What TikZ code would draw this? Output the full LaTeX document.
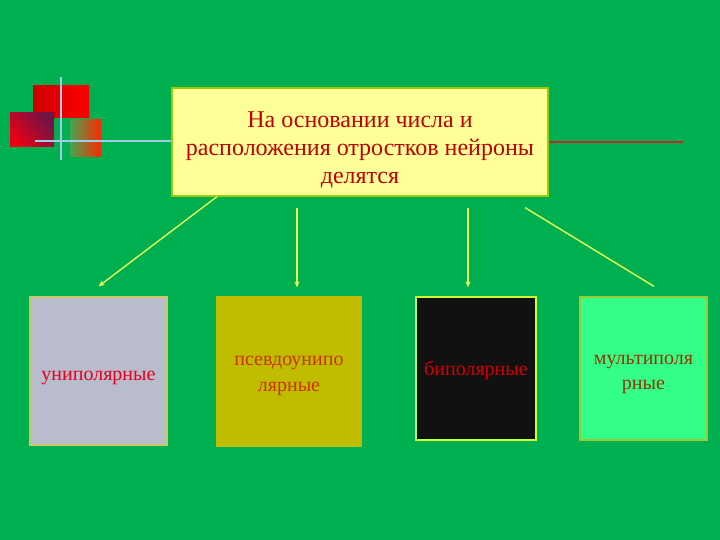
\documentclass[tikz,border=0pt]{standalone}
\usepackage{fontspec}
\setmainfont{Liberation Serif}
\usetikzlibrary{arrows.meta}
\definecolor{bg}{RGB}{0,176,80}
\definecolor{topfill}{RGB}{255,255,153}
\definecolor{topdraw}{RGB}{153,204,0}
\definecolor{darkred}{RGB}{192,0,0}
\definecolor{arrcol}{RGB}{230,255,80}
\definecolor{lblue}{RGB}{160,205,235}
\definecolor{redline}{RGB}{190,40,40}
\definecolor{fillA}{RGB}{184,188,204}
\definecolor{fillB}{RGB}{192,188,0}
\definecolor{fillC}{RGB}{17,17,17}
\definecolor{fillD}{RGB}{51,255,136}
\definecolor{textB}{RGB}{204,51,0}
\definecolor{textD}{RGB}{153,51,0}
\tikzset{
  topbox/.style={draw=topdraw, line width=1.2pt, fill=topfill, minimum width=376pt, minimum height=108pt, inner sep=0pt, align=center, font=\fontsize{24}{28}\selectfont, text=darkred},
  catbox/.style={line width=1.2pt, inner sep=0pt, align=center, font=\fontsize{20}{26}\selectfont},
  arr/.style={draw=arrcol, line width=1.4pt, -{Stealth[length=6pt,width=5pt]}},
  plainarr/.style={draw=arrcol, line width=1.4pt},
}
\begin{document}
\begin{tikzpicture}[x=1pt,y=-1pt]
\fill[bg] (0,0) rectangle (720,540);
\useasboundingbox (0,0) rectangle (720,540);
% decoration
\shade[left color=red!80!black, right color=red] (33,86) rectangle (89,118);
\shade[left color={rgb,255:red,70;green,165;blue,80}, right color={rgb,255:red,255;green,40;blue,0}] (70,120) rectangle (101,157);
\shade[shading=axis, top color={rgb,255:red,110;green,20;blue,70}, bottom color={rgb,255:red,235;green,0;blue,20}, shading angle=-50] (10,113) rectangle (54,147);
\draw[lblue, line width=2.2pt] (61,77) -- (61,160);
\draw[lblue, line width=2.2pt] (35,141) -- (172,141);
\draw[redline, line width=2.5pt] (548,142) -- (683,142);
% main box
\node[topbox] (top) at (360,142) {\rule{0pt}{31pt}На основании числа и\\расположения отростков нейроны\\делятся};
% category boxes
\node[catbox, draw={rgb,255:red,200;green,200;blue,100}, fill=fillA, minimum width=137pt, minimum height=148pt, text={rgb,255:red,230;green,0;blue,30}] (b1) at (98.5,371) {\rule{0pt}{24pt}униполярные};
\node[catbox, draw=fillB, fill=fillB, minimum width=144pt, minimum height=149pt, text=textB] (b2) at (289,371.5) {\rule{0pt}{19pt}псевдоунипо\\лярные};
\node[catbox, draw={rgb,255:red,204;green,255;blue,51}, fill=fillC, minimum width=120pt, minimum height=143pt, text={rgb,255:red,210;green,0;blue,0}] (b3) at (476,368.5) {\rule{0pt}{18pt}биполярные};
\node[catbox, draw={rgb,255:red,153;green,204;blue,51}, fill=fillD, minimum width=127pt, minimum height=143pt, text=textD, font=\fontsize{20}{25}\selectfont] (b4) at (643.5,368.5) {\rule{0pt}{22pt}мультиполя\\рные};
% connectors
\draw[arr] ([xshift=-143pt]top.south) -- ([yshift=10pt]b1.north);
\draw[arr] ([xshift=-63pt,yshift=-11pt]top.south) -- ([xshift=8pt,yshift=9pt]b2.north);
\draw[arr] ([xshift=108pt,yshift=-11pt]top.south) -- ([xshift=-8pt,yshift=9pt]b3.north);
\draw[plainarr] ([xshift=165pt,yshift=-11pt]top.south) -- ([xshift=10.5pt,yshift=10pt]b4.north);
\end{tikzpicture}
\end{document}
